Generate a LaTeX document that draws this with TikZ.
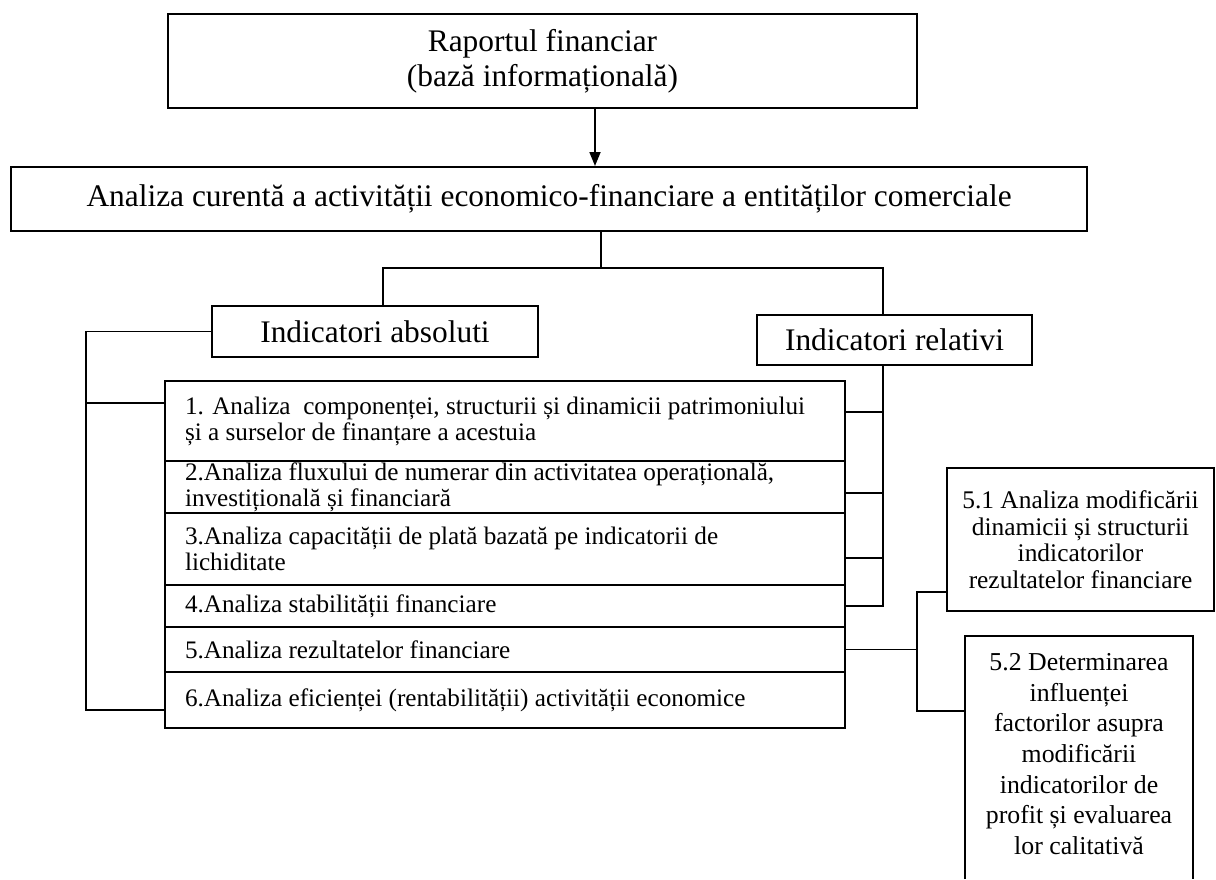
\documentclass[tikz,border=0pt]{standalone}
\usepackage{fontspec}
\setmainfont{Liberation Serif}
\usetikzlibrary{arrows.meta}

\tikzset{
  box/.style={draw, line width=1pt, inner sep=0pt, align=center,
    font=\fontsize{15.7}{17.5}\selectfont},
  rowbox/.style={draw, line width=1pt, inner ysep=0pt, inner xsep=10pt,
    text width=320pt, align=flush left, font=\fontsize{12.6}{13}\selectfont},
  subbox/.style={inner sep=0pt, align=center},
  link/.style={line width=0.9pt},
  arrowline/.style={line width=0.9pt, -{Triangle[length=7pt,width=5.5pt]}},
}

\begin{document}
\begin{tikzpicture}[x=0.5pt,y=-0.5pt]
			%%%%% START %%%%%
			\useasboundingbox (0,0) rectangle (1216,879);
			
			\node[box, minimum width=374.5pt, minimum height=47pt] (raport) at (542.5,61)
			  {Raportul financiar\\(bază informațională)};
			\node[box, minimum width=538pt, minimum height=32pt] (analiza) at (549,199)
			  {Analiza curentă a activității economico-financiare a entităților comerciale};
			
			\node[box, minimum width=163pt, minimum height=25.5pt] (absol) at (375,331.5) {Indicatori absoluti};
			\node[box, minimum width=137.5pt, minimum height=25pt] (relat) at (894.5,340) {Indicatori relativi};
			
			\node[rowbox, minimum height=40pt] (r1) at (505,421)
			  {1. Analiza\ \ componenței, structurii și dinamicii patrimoniului\\și a surselor de finanțare a acestuia};
			\node[rowbox, minimum height=26pt] (r2) at (505,487)
			  {2.Analiza fluxului de numerar din activitatea operațională,\\investițională și financiară};
			\node[rowbox, minimum height=36pt] (r3) at (505,549)
			  {3.Analiza capacității de plată bazată pe indicatorii de\\lichiditate};
			\node[rowbox, minimum height=21pt] (r4) at (505,606) {4.Analiza stabilității financiare};
			\node[rowbox, minimum height=22.5pt] (r5) at (505,649.5) {5.Analiza rezultatelor financiare};
			\node[rowbox, minimum height=28pt] (r6) at (505,700) {6.Analiza eficienței (rentabilității) activității economice};
			
			\node[subbox, draw, line width=1pt, minimum width=133.5pt, minimum height=71.5pt,
			  font=\fontsize{12.7}{13.3}\selectfont] (b51) at (1080.5,539.5)
			  {5.1 Analiza modificării\\dinamicii și structurii\\indicatorilor\\rezultatelor financiare};
			\node[subbox, minimum width=114pt, minimum height=118pt,
			  font=\fontsize{12.9}{15.3}\selectfont] (b52) at (1079,754)
			  {5.2 Determinarea\\influenței\\factorilor asupra\\modificării\\indicatorilor de\\profit și evaluarea\\lor calitativă};
			\draw[line width=1pt] (b52.west |- 0,879) -- (b52.north west) -- (b52.north east) -- (b52.east |- 0,879);
			
			\coordinate (arr) at (595,0);
			\coordinate (stem) at (601,268);
			\coordinate (abx) at (383,0);
			\coordinate (rbar) at (883,0);
			\coordinate (lstub) at (86,403);
			\coordinate (lbot) at (86,710);
			\coordinate (sbar) at (917,0);
			\coordinate (stop) at (917,592);
			\coordinate (sbot) at (917,711);
			
			\draw[arrowline] (raport.south -| arr) -- (analiza.north -| arr);
			\draw[link] (analiza.south -| stem) -- (stem);
			\draw[link] (absol.north -| abx) |- (stem) -| (relat.north -| rbar);
			
			\draw[link] (absol.west) -| (lbot) -- (lbot -| r6.west);
			\draw[link] (lstub) -- (lstub -| r1.west);
			
			\draw[link] (relat.south -| rbar) |- (r4.east);
			\foreach \r/\dy in {r1/4.5, r2/-3, r3/-4.5}
			  \draw[link] ([yshift=\dy pt]\r.east) -- ([yshift=\dy pt]\r.east -| rbar);
			
			\draw[link] (r5.east) -- (r5.east -| sbar);
			\draw[link] (stop -| b51.west) -- (stop) -- (sbot) -- (sbot -| b52.west);
			%%%%% END %%%%%
\end{tikzpicture}
\end{document}
